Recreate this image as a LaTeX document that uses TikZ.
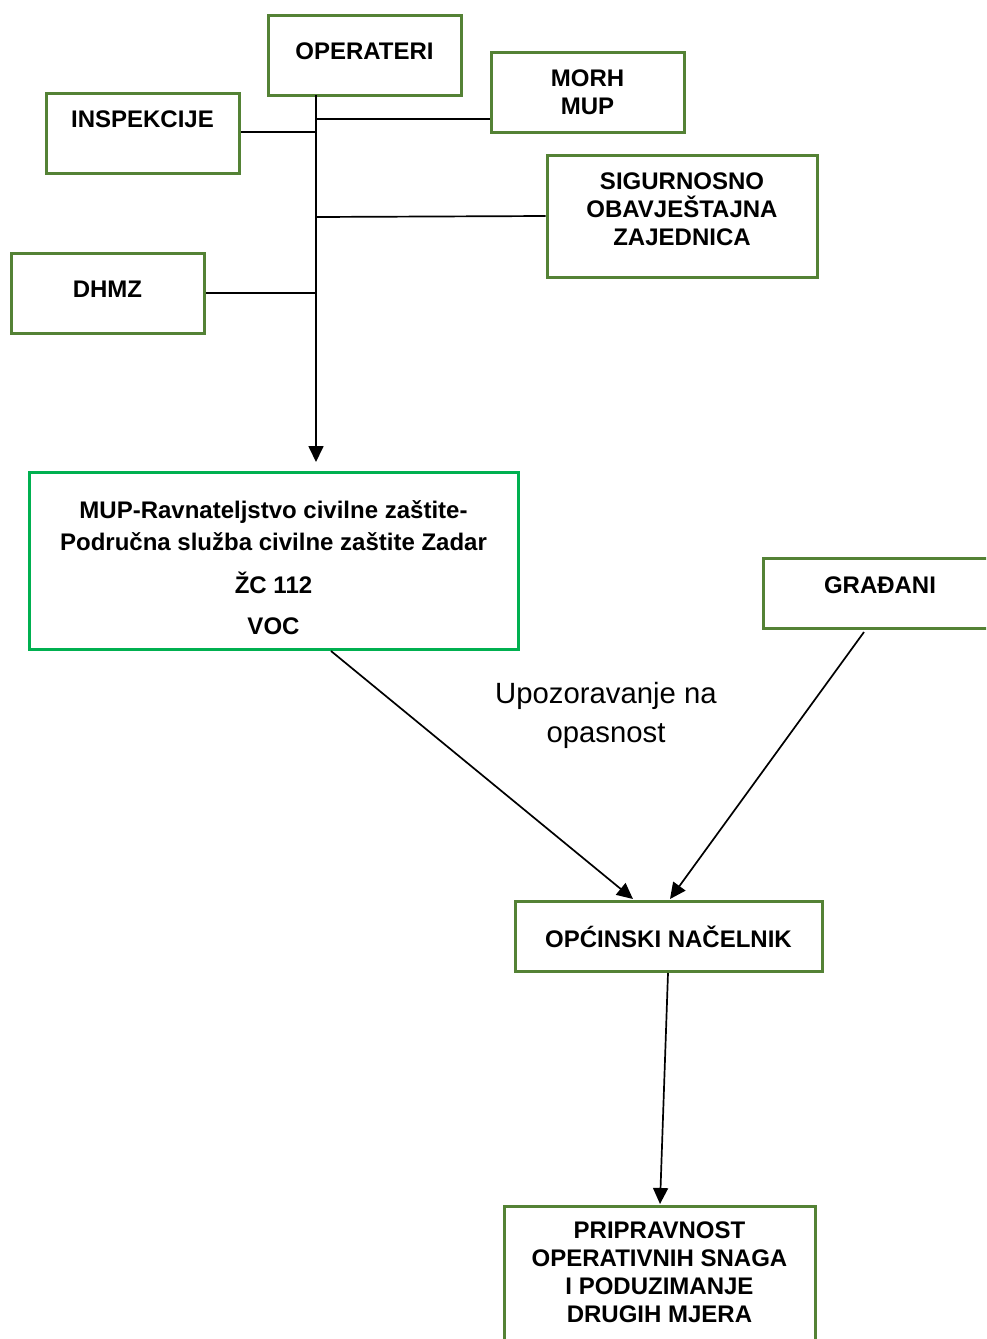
\documentclass[tikz,border=0pt]{standalone}
\usepackage{fontspec}
\setmainfont{Liberation Sans}
\usetikzlibrary{arrows.meta}
\definecolor{boxgreen}{RGB}{84,130,53}
\definecolor{brightgreen}{RGB}{0,176,80}
\tikzset{
  box/.style={draw=boxgreen, line width=3pt, rectangle, inner sep=0pt},
  mupbox/.style={draw=brightgreen, line width=3pt, rectangle, inner sep=0pt},
  txt/.style={font=\fontsize{24}{28}\selectfont\bfseries, align=center, inner sep=0pt},
  lbl/.style={font=\fontsize{29.3}{39.5}\selectfont, align=center, inner sep=0pt},
  conn/.style={line width=1.7pt, black},
  arr/.style={conn, -{Triangle[width=15pt,length=16pt]}},
}
\begin{document}
\begin{tikzpicture}[x=1pt,y=-1pt]
\useasboundingbox (0,0) rectangle (986,1339);
\clip (0,0) rectangle (986,1339);
% boxes
\node[box, minimum width=193pt, minimum height=80pt] (op) at (364.5,55) {};
\node[txt] (opT) at (364.5,51) {OPERATERI};
\node[box, minimum width=193pt, minimum height=80pt] (morh) at (587.5,92) {};
\node[txt] (morhT) at (587.5,92) {MORH\\MUP};
\node[box, minimum width=193pt, minimum height=80pt] (ins) at (142.5,133) {};
\node[txt] (insT) at (142.5,119) {INSPEKCIJE};
\node[box, minimum width=270pt, minimum height=122pt] (sig) at (682,216) {};
\node[txt] (sigT) at (682,209) {SIGURNOSNO\\OBAVJEŠTAJNA\\ZAJEDNICA};
\node[box, minimum width=193pt, minimum height=80pt] (dhmz) at (107.5,293) {};
\node[txt] (dhmzT) at (107.5,289) {DHMZ};
\node[mupbox, minimum width=489pt, minimum height=177pt] (mup) at (273.5,560.5) {};
\node[txt, font=\fontsize{24}{32}\selectfont\bfseries] (mupA) at (273.5,526) {MUP-Ravnateljstvo civilne zaštite-\\Područna služba civilne zaštite Zadar};
\node[txt] (mupB) at (273.5,583) {ŽC 112};
\node[txt] (mupC) at (273.5,626) {VOC};
\node[box, minimum width=230pt, minimum height=70pt] (gra) at (878,593) {};
\node[txt] (graT) at (880,585) {GRAĐANI};
\node[box, minimum width=307pt, minimum height=70pt] (opc) at (668.5,936) {};
\node[txt] (opcT) at (668.5,937) {OPĆINSKI NAČELNIK};
\node[box, minimum width=311pt, minimum height=160pt] (pri) at (659.5,1286) {};
\node[txt] (priT) at (659.5,1272.5) {PRIPRAVNOST\\OPERATIVNIH SNAGA\\I PODUZIMANJE\\DRUGIH MJERA};
\node[lbl] (upo) at (606,715.5) {Upozoravanje na\\opasnost};
% connectors
\coordinate (t0) at (316,95);
\coordinate (tM) at (316,119);
\coordinate (tI) at (316,132);
\coordinate (tS) at (316,217);
\coordinate (tD) at (316,293);
\coordinate (tE) at (316,462);
\draw[arr] (t0) -- (tE);
\draw[conn] (tM) -- (morh.west |- tM);
\draw[conn] (tI) -- (ins.east |- tI);
\draw[conn] (tS) -- (sig.west);
\draw[conn] (tD) -- (dhmz.east |- tD);
\coordinate (m1) at (331,651);
\coordinate (m2) at (633,899);
\draw[arr] (m1) -- (m2);
\coordinate (g1) at (864,632);
\coordinate (g2) at (670,899);
\draw[arr] (g1) -- (g2);
\coordinate (o1) at (668,973);
\coordinate (o2) at (660,1204);
\draw[arr] (o1) -- (o2);
\end{tikzpicture}
\end{document}
